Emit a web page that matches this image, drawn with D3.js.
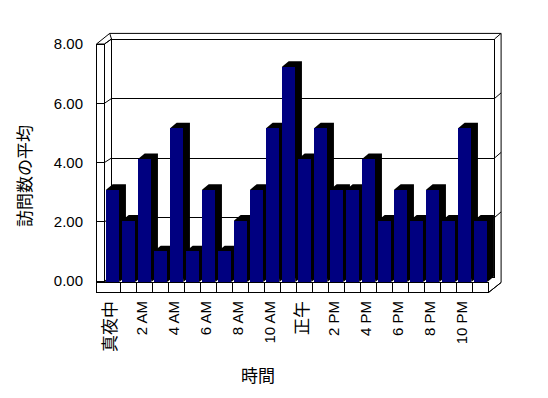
<!DOCTYPE html>
<html>
<head>
<meta charset="utf-8">
<script src="https://cdn.jsdelivr.net/npm/d3@7"></script>
<style>
  body { margin: 0; background: #fff; }
</style>
</head>
<body>
<div id="chart"></div>
<script>
// hour labels (every other one is shown on the axis)
const timeLabels = ["真夜中", "1 AM", "2 AM", "3 AM", "4 AM", "5 AM", "6 AM", "7 AM", "8 AM", "9 AM", "10 AM", "11 AM",
    "正午", "1 PM", "2 PM", "3 PM", "4 PM", "5 PM", "6 PM", "7 PM", "8 PM", "9 PM", "10 PM", "11 PM"]
const visits = [3, 2, 4, 1, 5, 1, 3, 1, 2, 3, 5, 7, 4, 5, 3, 3, 4, 2, 3, 2, 3, 2, 5, 2]
const yTicks = [0, 2, 4, 6, 8]

const width = 548
const height = 398

// depth offset of the 3d look (one step = bar depth / back wall thickness)
const dx = 6.6, dy = -5.6

const latin = "'Liberation Sans', Arial, 'Noto Sans CJK JP', sans-serif"
const cjk = "'Noto Sans CJK JP', sans-serif"

var svg = d3.select("#chart")
    .append("svg")
    .attr("width", width)
    .attr("height", height)

var xScale = d3.scaleBand()
    .domain(timeLabels)
    .range([104.7, 488.7])
    .paddingInner(0.17)
    .paddingOuter(0.085)

// front plane (bars), back wall and left wall use slightly different scales (perspective)
var yFront = d3.scaleLinear().domain([0, 8]).range([282, 36])
var yBack = d3.scaleLinear().domain([0, 8]).range([277, 39])
var yWall = d3.scaleLinear().domain([0, 8]).range([281, 44])

const left = 96.5, wallIn = 104.5
const backL = 111.5, backR = 494.5
const floorTop = 282.5, floorBot = 292.5
const floorR = 488.5

var frame = svg.append("g")
    .attr("fill", "white")
    .attr("stroke", "black")
    .attr("stroke-width", 1)

// back wall (front face + thickness)
frame.append("path")
    .attr("d", `M${left},${yWall(8)} L${left + 2 * dx},${yBack(8) + dy} L${backR + dx},${yBack(8) + dy}
        L${backR + dx},${floorTop} L${floorR},${floorBot} L${left},${floorBot} Z`)
frame.append("rect")
    .attr("x", backL)
    .attr("y", yBack(8))
    .attr("width", backR - backL)
    .attr("height", yBack(0) - yBack(8))
    .attr("shape-rendering", "crispEdges")
frame.append("line")
    .attr("x1", backR).attr("y1", yBack(8))
    .attr("x2", backR + dx).attr("y2", yBack(8) + dy)

// gridlines on back wall, with slant at the right edge
yTicks.filter(d => d > 0 && d < 8).forEach(v => {
    frame.append("line")
        .attr("shape-rendering", "crispEdges")
        .attr("x1", backL).attr("x2", backR)
        .attr("y1", yBack(v)).attr("y2", yBack(v))
    frame.append("line")
        .attr("x1", backR).attr("y1", yBack(v))
        .attr("x2", backR + dx).attr("y2", yBack(v) + dy)
})

// left wall
frame.append("path")
    .attr("d", `M${left},${yWall(8)} L${wallIn},${yWall(8)} L${backL},${yBack(8)} L${backL},${yBack(0)}
        L${wallIn},${floorTop} L${left},${floorTop} Z`)
frame.append("line")
    .attr("shape-rendering", "crispEdges")
    .attr("x1", wallIn).attr("y1", yWall(8))
    .attr("x2", wallIn).attr("y2", floorTop)
frame.append("line")
    .attr("x1", left + 2 * dx).attr("y1", yBack(8) + dy)
    .attr("x2", backL).attr("y2", yBack(8))

yTicks.forEach(v => {
    frame.append("line")
        .attr("shape-rendering", "crispEdges")
        .attr("x1", left).attr("x2", wallIn)
        .attr("y1", yWall(v)).attr("y2", yWall(v))
    frame.append("line")
        .attr("x1", wallIn).attr("y1", yWall(v))
        .attr("x2", backL).attr("y2", yBack(v))
})

// floor front face with category dividers
frame.append("rect")
    .attr("shape-rendering", "crispEdges")
    .attr("x", left)
    .attr("y", floorTop)
    .attr("width", floorR - left)
    .attr("height", floorBot - floorTop)

var gap = xScale.step() * xScale.paddingInner() / 2
frame.selectAll(".divider")
    .data(timeLabels.slice(1))
    .join("line")
    .attr("class", "divider")
    .attr("shape-rendering", "crispEdges")
    .attr("x1", d => xScale(d) - gap)
    .attr("x2", d => xScale(d) - gap)
    .attr("y1", floorTop)
    .attr("y2", floorBot)

frame.append("line")
    .attr("x1", floorR).attr("y1", floorBot)
    .attr("x2", backR + dx).attr("y2", floorTop)

// bars, drawn left to right so the next front face hides the previous side
var bw = xScale.bandwidth()
var bars = svg.append("g")
    .selectAll("g")
    .data(visits.map((v, i) => ({ label: timeLabels[i], value: v })))
    .join("g")

bars.append("path")
    .attr("fill", "black")
    .attr("d", d => {
        let x0 = xScale(d.label), x1 = x0 + bw, y = yFront(d.value), y0 = yFront(0)
        return `M${x0},${y} L${x0 + dx},${y + dy} L${x1 + dx},${y + dy} L${x1 + dx},${y0 + dy} L${x1},${y0} Z`
    })

bars.append("rect")
    .attr("shape-rendering", "crispEdges")
    .attr("x", d => xScale(d.label))
    .attr("y", d => yFront(d.value))
    .attr("width", bw)
    .attr("height", d => yFront(0) - yFront(d.value))
    .attr("fill", "#000080")

// y axis labels
var yAxis = d3.axisLeft(yWall)
    .tickValues(yTicks)
    .tickSize(0)
    .tickPadding(3)
    .tickFormat(d3.format(".2f"))

svg.append("g")
    .attr("transform", "translate(86,0)")
    .call(yAxis)
    .call(g => g.select(".domain").remove())
    .selectAll("text")
    .attr("font-family", latin)
    .attr("font-size", 15)
    .attr("fill", "black")

// x axis labels (rotated)
var xAxis = d3.axisBottom(xScale)
    .tickValues(timeLabels.filter((d, i) => i % 2 === 0))
    .tickSize(0)

svg.append("g")
    .attr("transform", "translate(-3,301)")
    .call(xAxis)
    .call(g => g.select(".domain").remove())
    .selectAll("text")
    .attr("transform", "rotate(-90)")
    .attr("text-anchor", "end")
    .attr("x", 0)
    .attr("y", 0)
    .attr("dy", "0.36em")
    .attr("fill", "black")
    .attr("font-family", d => /[^\x00-\x7F]/.test(d) ? cjk : latin)
    .attr("font-size", d => /[^\x00-\x7F]/.test(d) ? 17 : 15)

// axis titles
svg.append("text")
    .attr("transform", "translate(25,176) rotate(-90)")
    .attr("text-anchor", "middle")
    .attr("dy", "0.36em")
    .attr("font-family", cjk)
    .attr("font-size", 17)
    .text("訪問数の平均")

svg.append("text")
    .attr("x", 258)
    .attr("y", 376)
    .attr("text-anchor", "middle")
    .attr("dy", "0.36em")
    .attr("font-family", cjk)
    .attr("font-size", 17)
    .text("時間")
</script>
</body>
</html>
